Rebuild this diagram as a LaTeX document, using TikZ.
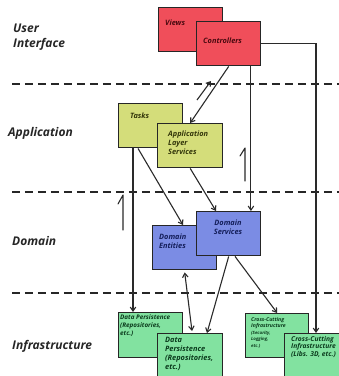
\documentclass[tikz,border=0pt]{standalone}
\usepackage{fontspec}
\setmainfont{Open Sans}
\usetikzlibrary{arrows.meta,calc}
\definecolor{redbox}{HTML}{F04E5A}
\definecolor{yelbox}{HTML}{D4DD7A}
\definecolor{bluebox}{HTML}{7B8CE4}
\definecolor{greenbox}{HTML}{82E2A0}
\definecolor{redtxt}{HTML}{4A0A10}
\definecolor{yeltxt}{HTML}{33360A}
\definecolor{bluetxt}{HTML}{141E5A}
\definecolor{greentxt}{HTML}{0A3A1C}
\definecolor{linecol}{HTML}{2A2A2A}
\begin{document}
\begin{tikzpicture}[x=1pt,y=-1pt,
  box/.style={draw=black!85, line width=1.4pt, minimum width=#1, minimum height=44pt, inner sep=0pt, anchor=north west},
  box/.default=64pt,
  btxt/.style={anchor=north west, inner sep=0pt, align=left, font=\bfseries\itshape\fontsize{7.4}{9}\selectfont},
  layer/.style={anchor=west, inner sep=0pt, align=left, font=\bfseries\itshape\fontsize{12}{15}\selectfont, text=black!85},
  sep/.style={line width=1.8pt, dash pattern=on 8pt off 5pt, black!85},
  conn/.style={draw=linecol, line width=1.1pt},
  arr/.style={conn, -{Straight Barb[length=4pt,width=5.5pt]}},
  darr/.style={conn, {Straight Barb[length=4pt,width=5.5pt]}-{Straight Barb[length=4pt,width=5.5pt]}}
]
\useasboundingbox (0,0) rectangle (339,376);

% layer separators
\coordinate (s1a) at (12,84);  \coordinate (s1b) at (339,84);
\coordinate (s2a) at (12,192); \coordinate (s2b) at (339,192);
\coordinate (s3a) at (12,293); \coordinate (s3b) at (339,293);
\draw[sep] (s1a) -- (s1b);
\draw[sep] (s2a) -- (s2b);
\draw[sep] (s3a) -- (s3b);

% layer labels
\node[layer] (lui) at (13,37) {User\\Interface};
\node[layer] (lapp) at (8,133) {Application};
\node[layer] (ldom) at (12,241) {Domain};
\node[layer] (linf) at (12,346) {Infrastructure};

% User interface
\node[box, fill=redbox] (views) at (158,7) {};
\node[btxt, text=redtxt] (viewsT) at (165,20) {Views};
\node[box, fill=redbox] (ctrl) at (196,21) {};
\node[btxt, text=redtxt] (ctrlT) at (203,38) {Controllers};

% Application
\node[box, fill=yelbox] (tasks) at (118,103) {};
\node[btxt, text=yeltxt] (tasksT) at (130,113) {Tasks};
\node[box=65pt, fill=yelbox] (als) at (157,123) {};
\node[btxt, text=yeltxt] (alsT) at (168,131) {Application\\Layer\\Services};

% Domain
\node[box, fill=bluebox] (de) at (152,225) {};
\node[btxt, text=bluetxt] (deT) at (159,234) {Domain\\Entities};
\node[box, fill=bluebox] (ds) at (196,211) {};
\node[btxt, text=bluetxt, align=center, anchor=north] (dsT) at (228,220) {Domain\\Services};

% Infrastructure
\node[box, minimum height=45pt, fill=greenbox] (dp1) at (118,312) {};
\node[btxt, text=greentxt, font=\bfseries\itshape\fontsize{6.3}{7.6}\selectfont] (dp1T) at (120,315) {Data Persistence\\(Repositories,\\etc.)};
\node[box=65pt, minimum height=48pt, fill=greenbox] (dp2) at (157,333) {};
\node[btxt, text=greentxt] (dp2T) at (165,337) {Data\\Persistence\\(Repositories,\\etc.)};
\node[box=63pt, fill=greenbox] (cc1) at (245,313) {};
\node[btxt, text=greentxt, font=\bfseries\itshape\fontsize{5.2}{6.6}\selectfont] (cc1T) at (251,317) {Cross-Cutting\\Infrastructure\\{\fontsize{4.4}{6}\selectfont(Security,}\\{\fontsize{4.4}{6}\selectfont Logging,}\\{\fontsize{4.4}{6}\selectfont etc.)}};
\node[box=62pt, minimum height=48pt, fill=greenbox] (cc2) at (284,333) {};
\node[btxt, text=greentxt, font=\bfseries\itshape\fontsize{6.7}{7.6}\selectfont] (cc2T) at (291,336) {Cross-Cutting\\Infrastructure\\(Libs. 3D, etc.)};

% connectors
\draw[arr] (ctrl.south) -- (als.north);
\coordinate (retA) at (197,100);
\coordinate (retB) at (211,81);
\draw[arr] (retA) -- (retB);

\coordinate (c1) at ($(ctrl.south west)!0.84!(ctrl.south east)$);
\draw[arr] (c1) -- (c1 |- ds.north);

\coordinate (c2) at ($(cc2.north west)+(32,0)$);
\draw[arr] (ctrl.east) -| (c2);

\coordinate (t1) at ($(tasks.south west)+(15,0)$);
\draw[arr] (t1) -- (t1 |- dp1.north);

\coordinate (t2) at ($(tasks.south west)+(20,0)$);
\draw[arr] (t2) -- ($(de.north west)+(31,0)$);

\draw[arr] (als.south) -- ($(ds.north west)+(20,0)$);

\draw[darr] ($(de.south)+(0,2)$) -- ($(dp2.north west)+(35,-2)$);

\draw[arr] (ds.south) -- ($(dp2.north west)+(50,0)$);

\draw[arr] ($(ds.south west)+(39,0)$) -- (cc1.north);

% hand-drawn direction marks
\coordinate (m1a) at (123,230); \coordinate (m1b) at (123,195); \coordinate (m1c) at (118,204);
\draw[conn, line cap=round, line join=round] (m1a) -- (m1b) -- (m1c);
\coordinate (m2a) at (245,181); \coordinate (m2b) at (245,148); \coordinate (m2c) at (240,156);
\draw[conn, line cap=round, line join=round] (m2a) -- (m2b) -- (m2c);
\end{tikzpicture}
\end{document}
